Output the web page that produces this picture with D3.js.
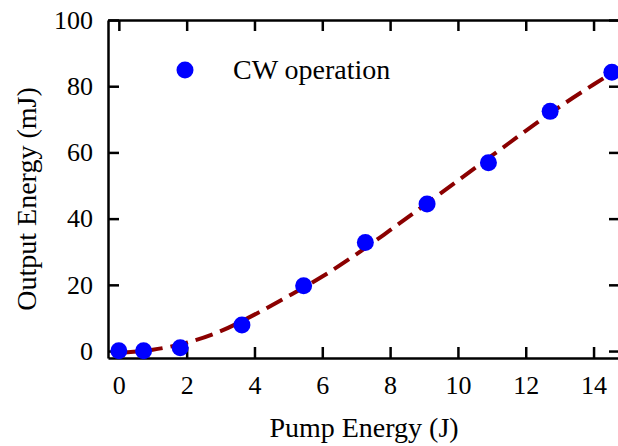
<!DOCTYPE html>
<html>
<head>
<meta charset="utf-8">
<script src="https://cdn.jsdelivr.net/npm/d3@7"></script>
<style>
  body { margin: 0; background: #fff; }
  svg { display: block; }
  .axis path, .axis line { stroke: #000; stroke-width: 2.5; }
</style>
</head>
<body>
<div id="chart"></div>
<script>
// measured points (pump energy J, output energy mJ)
const pumpEnergy = [0, 0.73, 1.81, 3.63, 5.45, 7.27, 9.09, 10.9, 12.72, 14.54];
const outputEnergy = [0.1, 0.1, 1.0, 7.9, 19.7, 32.8, 44.4, 56.9, 72.4, 84.2];

// fit curve
const fitX = [0, 1, 2, 3, 4, 5, 6, 7, 8, 9, 10, 11, 12, 13, 14, 14.8];
const fitY = [-0.5, 0.4, 2.5, 6.0, 11.0, 16.6, 22.5, 29.2, 36.5, 44.0, 51.5, 59.0, 66.5, 73.8, 80.5, 85.6];

const xTicks = [0, 2, 4, 6, 8, 10, 12, 14];
const yTicks = [0, 20, 40, 60, 80, 100];

const width = 618, height = 446;
const plotLeft = 108, plotTop = 20, plotRight = 620, plotBottom = 358;
const serif = "Liberation Serif, Tinos, Times New Roman, DejaVu Serif, serif";

const svg = d3.select("#chart")
    .append("svg")
    .attr("width", width)
    .attr("height", height)
    .style("font-family", serif);

const x = d3.scaleLinear().domain([-0.32, 14.78]).range([plotLeft, plotRight]);
const y = d3.scaleLinear().domain([-2.1, 100]).range([plotBottom, plotTop]);

// axes (ticks point inward on all four sides)
function styleAxis(g) {
    g.attr("font-family", serif).attr("font-size", 26);
    g.selectAll("text").attr("fill", "#000");
}

svg.append("g")
    .attr("class", "axis")
    .attr("transform", `translate(0,${plotBottom})`)
    .call(d3.axisBottom(x).tickValues(xTicks).tickSizeInner(-11).tickSizeOuter(0).tickPadding(18))
    .call(styleAxis);

svg.append("g")
    .attr("class", "axis")
    .attr("transform", `translate(0,${plotTop})`)
    .call(d3.axisTop(x).tickValues(xTicks).tickSizeInner(-11).tickSizeOuter(0).tickFormat(""));

svg.append("g")
    .attr("class", "axis")
    .attr("transform", `translate(${plotLeft},0)`)
    .call(d3.axisLeft(y).tickValues(yTicks).tickSizeInner(-11).tickSizeOuter(0).tickPadding(15))
    .call(styleAxis);

svg.append("g")
    .attr("class", "axis")
    .attr("transform", `translate(${plotRight},0)`)
    .call(d3.axisRight(y).tickValues(yTicks).tickSizeInner(-11).tickSizeOuter(0).tickFormat(""));

// fit line
const line = d3.line()
    .x(d => x(d[0]))
    .y(d => y(d[1]))
    .curve(d3.curveCatmullRom);

svg.append("path")
    .datum(fitX.map((v, i) => [v, fitY[i]]))
    .attr("d", line)
    .attr("fill", "none")
    .attr("stroke", "#8b0000")
    .attr("stroke-width", 4)
    .attr("stroke-dasharray", "18,8");

// data points
svg.selectAll("circle.pt")
    .data(pumpEnergy.map((v, i) => [v, outputEnergy[i]]))
    .join("circle")
    .attr("class", "pt")
    .attr("cx", d => x(d[0]))
    .attr("cy", d => y(d[1]))
    .attr("r", 8.5)
    .attr("fill", "#0000ff");

// legend
svg.append("circle")
    .attr("cx", 185)
    .attr("cy", 70)
    .attr("r", 8.5)
    .attr("fill", "#0000ff");

function label(sel) {
    return sel.attr("font-family", serif).attr("font-size", 28).attr("fill", "#000");
}

svg.append("text")
    .call(label)
    .attr("x", 233)
    .attr("y", 79)
    .text("CW operation");

// axis titles
svg.append("text")
    .call(label)
    .attr("x", 364)
    .attr("y", 437)
    .attr("text-anchor", "middle")
    .text("Pump Energy (J)");

svg.append("text")
    .call(label)
    .attr("transform", "translate(36,199) rotate(-90)")
    .attr("text-anchor", "middle")
    .text("Output Energy (mJ)");
</script>
</body>
</html>
